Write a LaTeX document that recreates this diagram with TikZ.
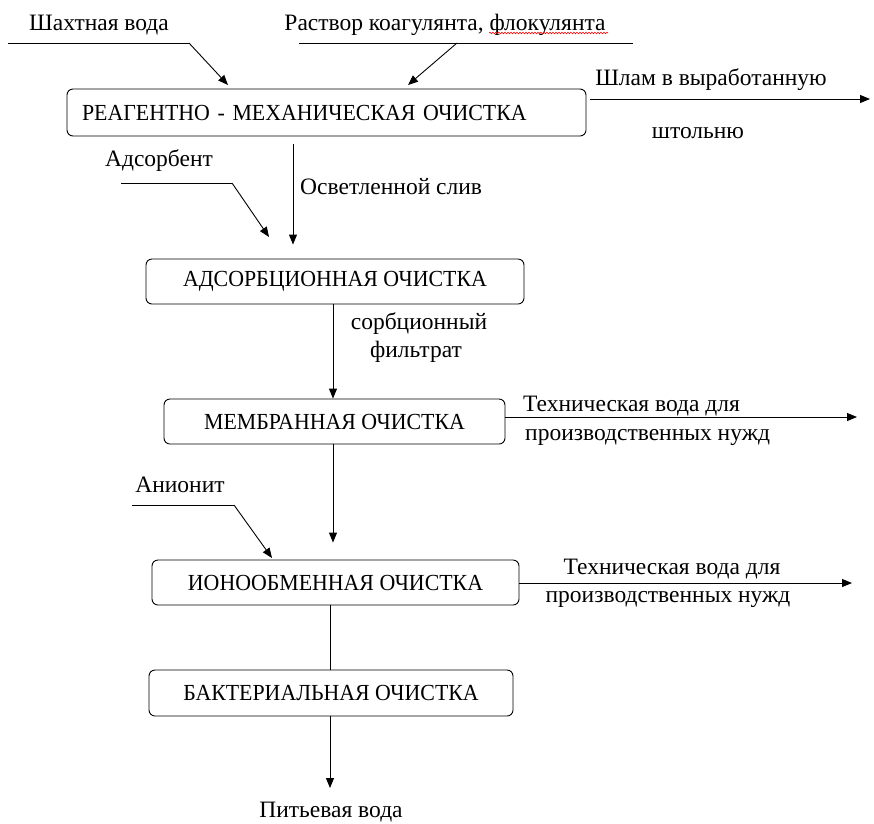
\documentclass[tikz,border=0pt]{standalone}
\usepackage{fontspec}
\setmainfont{Liberation Serif}
\newfontfamily\boxfont{Liberation Serif}[FakeStretch=0.95]
\usetikzlibrary{arrows.meta,decorations.pathmorphing}
\tikzset{
  txt/.style={font=\fontsize{23.5}{28}\selectfont, inner sep=0pt},
  stage/.style={draw, line width=0.9pt, rounded corners=6pt, font=\boxfont\fontsize{23}{28}\selectfont, inner sep=0pt},
  ln/.style={line width=0.9pt},
  arr/.style={line width=0.9pt, -{Triangle[length=10pt,width=8pt]}},
}
\begin{document}
\begin{tikzpicture}[x=1pt,y=-1pt]
\useasboundingbox (0,0) rectangle (874,823);
% stages
\node[stage, minimum width=519pt, minimum height=47pt, text width=489pt, align=left, inner xsep=15pt] (b1) at (326.5,112.5) {РЕАГЕНТНО - МЕХАНИЧЕСКАЯ ОЧИСТКА};
\node[stage, minimum width=378pt, minimum height=45pt] (b2) at (335,281.5) {АДСОРБЦИОННАЯ ОЧИСТКА};
\node[stage, minimum width=341pt, minimum height=45pt] (b3) at (334.5,421.5) {МЕМБРАННАЯ ОЧИСТКА};
\node[stage, minimum width=367pt, minimum height=45pt] (b4) at (335.5,582.5) {ИОНООБМЕННАЯ ОЧИСТКА};
\node[stage, minimum width=364pt, minimum height=46pt] (b5) at (331,693) {БАКТЕРИАЛЬНАЯ ОЧИСТКА};
% labels
\node[txt, anchor=base] (lshakh) at (99,30) {Шахтная вода};
\node[txt, anchor=base] (lrast) at (445,30) {Раствор коагулянта, флокулянта};
\node[txt, anchor=base] (lshlam) at (711,85) {Шлам в выработанную};
\node[txt, anchor=base] (lshtol) at (698,138) {штольню};
\node[txt, anchor=base] (lads) at (159,166) {Адсорбент};
\node[txt, anchor=base west] (lsliv) at (300,194) {Осветленной слив};
\node[txt, anchor=base] (lsorb1) at (419,329) {сорбционный};
\node[txt, anchor=base] (lsorb2) at (416,357) {фильтрат};
\node[txt, anchor=base west] (ltech1a) at (523,411) {Техническая вода для};
\node[txt, anchor=base west] (ltech1b) at (525,440) {производственных нужд};
\node[txt, anchor=base] (lanion) at (180,492) {Анионит};
\node[txt, anchor=base] (ltech2a) at (672,574) {Техническая вода для};
\node[txt, anchor=base] (ltech2b) at (668,602) {производственных нужд};
\node[txt, anchor=base] (ldrink) at (331,817) {Питьевая вода};
% spell-check underline
\draw[red, line width=0.6pt, decorate, decoration={snake, amplitude=0.8pt, segment length=3pt}] (489,33) -- (608,33);
% coordinates
\coordinate (s1a) at (8,43);
\coordinate (s1b) at (189,43);
\coordinate (s1t) at (228,85);
\coordinate (s2a) at (299,43);
\coordinate (s2b) at (633,43);
\coordinate (s2k) at (457,43);
\coordinate (s2t) at (408,85);
\coordinate (shs) at (590,99);
\coordinate (she) at (870,99);
\coordinate (ada) at (121,183);
\coordinate (adb) at (232,183);
\coordinate (adt) at (269,237);
\coordinate (t1e) at (857,417);
\coordinate (ana) at (132,505);
\coordinate (anb) at (234,505);
\coordinate (ant) at (272,558);
\coordinate (t2e) at (852,583);
\coordinate (dr) at (330,788);
\coordinate (xa) at (293,0);
\coordinate (xb) at (333,0);
\coordinate (xc) at (330,0);
% inputs
\draw[ln] (s1a) -- (s1b);
\draw[arr] (s1b) -- (s1t);
\draw[ln] (s2a) -- (s2b);
\draw[arr] (s2k) -- (s2t);
\draw[ln] (ada) -- (adb);
\draw[arr] (adb) -- (adt);
\draw[ln] (ana) -- (anb);
\draw[arr] (anb) -- (ant);
% outputs
\draw[arr] (shs) -- (she);
\draw[arr] (b3.east |- t1e) -- (t1e);
\draw[arr] (b4.east |- t2e) -- (t2e);
% main flow
\draw[arr, shorten <=8pt, shorten >=14pt] (b1.south -| xa) -- (b2.north -| xa);
\draw[arr] (b2.south -| xb) -- (b3.north -| xb);
\draw[arr, shorten >=17pt] (b3.south -| xb) -- (b4.north -| xb);
\draw[ln] (b4.south -| xc) -- (b5.north -| xc);
\draw[arr] (b5.south -| xc) -- (dr);
\end{tikzpicture}
\end{document}
